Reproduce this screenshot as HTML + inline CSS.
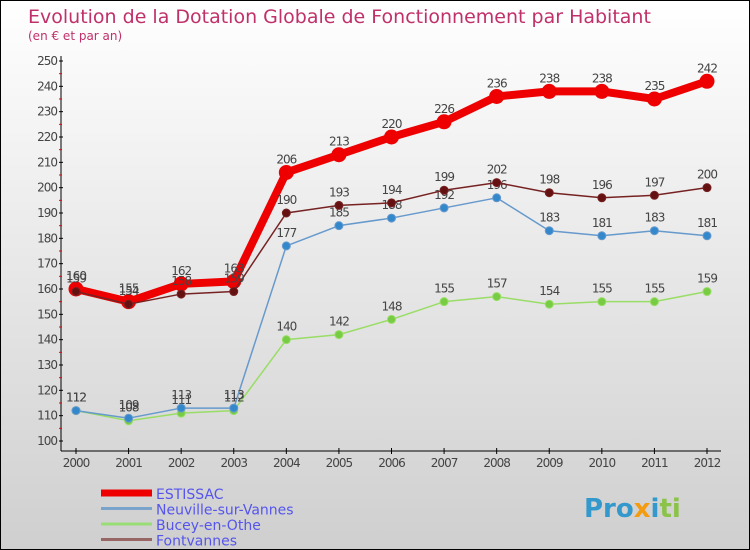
<!DOCTYPE html>
<html><head><meta charset="utf-8"><style>
body{margin:0;}
#c{width:750px;height:550px;position:relative;overflow:hidden;box-sizing:border-box;border:1px solid #000;background:linear-gradient(#ffffff,#cfcfcf);font-family:"DejaVu Sans","Liberation Sans",sans-serif;}
svg{position:absolute;left:0;top:0}
</style></head><body>
<div id="c">
<svg id="s" width="750" height="550">
<text x="27" y="22" font-size="19" fill="#c0306a">Evolution de la Dotation Globale de Fonctionnement par Habitant</text>
<text x="27" y="39" font-size="12" fill="#c0306a">(en € et par an)</text>
<text x="583" y="516" font-size="26" font-weight="bold" fill="#3399cc">Pro<tspan fill="#f39c12">x</tspan><tspan fill="#3399cc">i</tspan><tspan fill="#8bc34a">ti</tspan></text>
</svg>
</div>
<script>
const years=[2000,2001,2002,2003,2004,2005,2006,2007,2008,2009,2010,2011,2012];
const estissac=[160,155,162,163,206,213,220,226,236,238,238,235,242];
const neuville=[112,109,113,113,177,185,188,192,196,183,181,183,181];
const bucey=[112,108,111,112,140,142,148,155,157,154,155,155,159];
const fontvannes=[159,154,158,159,190,193,194,199,202,198,196,197,200];
const yTicks=[100,110,120,130,140,150,160,170,180,190,200,210,220,230,240,250];
const seriesNames=["ESTISSAC","Neuville-sur-Vannes","Bucey-en-Othe","Fontvannes"];
const NS="http://www.w3.org/2000/svg";
const s=document.getElementById('s');
const X=i=>75+i*(706-75)/(years.length-1);
const Y=v=>440-(v-100)*(380/150);
function el(t,a,p){const e=document.createElementNS(NS,t);for(const k in a)e.setAttribute(k,a[k]);(p||s).appendChild(e);return e;}
// axes
let ax=el('line',{x1:60,y1:55,x2:60,y2:450,stroke:'#000','stroke-width':1});


let bx=el('line',{x1:60,y1:450,x2:720,y2:450,stroke:'#000','stroke-width':1});


yTicks.forEach((v,i)=>{
  el('line',{x1:58,x2:62,y1:Y(v),y2:Y(v),stroke:'#000'});
  if(i<yTicks.length-1)el('line',{x1:58,x2:61,y1:Y(v+5),y2:Y(v+5),stroke:'#e00'});
  const t=el('text',{x:56,y:Y(v)+4,'font-size':12,'text-anchor':'end',fill:'#444','letter-spacing':'-1'});
  t.textContent=v;
  
  
});
years.forEach((y,i)=>{
  el('line',{x1:X(i),x2:X(i),y1:447,y2:453,stroke:'#000'});
  const t=el('text',{x:X(i),y:466,'font-size':12,'text-anchor':'middle',fill:'#444','letter-spacing':'-1'});
  t.textContent=y;
  
  
});
function series(data,color,w,r,dot,name){
  const g=el('g',{});
  
  
  el('polyline',{points:data.map((v,i)=>X(i)+','+Y(v)).join(' '),fill:'none',stroke:color,'stroke-width':w,'stroke-linejoin':'round'},g);
  data.forEach((v,i)=>{
    const c=el('circle',{cx:X(i),cy:Y(v),r:r,fill:dot,stroke:color,'stroke-width':1},g);
    
    
    const t=el('text',{x:X(i),y:Y(v)-9,'font-size':12,'text-anchor':'middle',fill:'#444','letter-spacing':'-1'},g);
    t.textContent=v;
    
    
  });
}
series(bucey,'#99dd66',1.5,4,'#77cc44','series-bucey');
series(neuville,'#6699cc',1.5,4,'#3388cc','series-neuville');
series(estissac,'#ee0000',8,7,'#ee0000','series-estissac');
series(fontvannes,'#772222',1.5,4,'#661111','series-fontvannes');
const lc=['#ee0000','#7aa3cc','#99dd77','#996666'],lw=[7,3,3,3];
seriesNames.forEach((n,i)=>{
  const y=492+i*15.5;
  const l=el('line',{x1:100,x2:151,y1:y,y2:y,stroke:lc[i],'stroke-width':lw[i]});
  
  
  const t=el('text',{x:155,y:y+6,'font-size':14,fill:'#5555ee'});
  t.textContent=n;
  
  
});
</script>
</body></html>
